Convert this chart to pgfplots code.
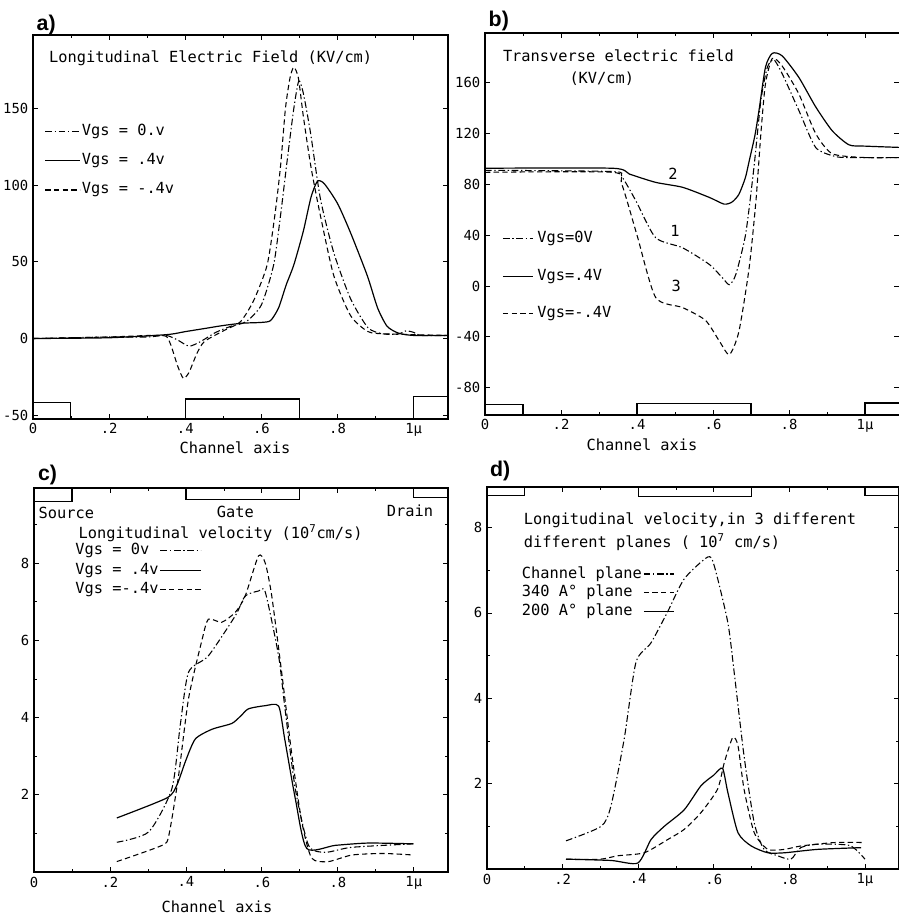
\documentclass[border=0pt]{standalone}
\usepackage{pgfplots}
\pgfplotsset{compat=1.18}
\usepackage{fontspec}
\setmainfont{DejaVu Sans Mono}
\newfontfamily\labfont{Liberation Sans}
\newcommand{\tf}{\fontsize{11.5}{13}\selectfont}
\pgfplotsset{
  panel/.style={scale only axis, anchor=south west, xmin=0, xmax=1.09,
    axis line style={line width=1pt},
    tick style={black, line width=0.6pt}, major tick length=4pt, minor tick length=2.5pt,
    xtick={0,.2,.4,.6,.8,1}, xticklabels={0,.2,.4,.6,.8,1μ},
    minor xtick={0.1,0.3,0.5,0.7,0.9},
    ticklabel style={font=\fontsize{10.4}{12}\selectfont},
    legend cell align=left,
    legend style={draw=none, fill=none, inner sep=0pt, font=\tf,
      nodes={inner sep=1pt, text height=8.5pt, text depth=2.5pt}},
  },
  sol/.style={black, line width=0.9pt, smooth, tension=0.4},
  dsh/.style={black, line width=0.8pt, dash pattern=on 4pt off 2.5pt, smooth, tension=0.4},
  dd/.style={black, line width=0.8pt, dash pattern=on 5pt off 2pt on 1pt off 2pt, smooth, tension=0.4},
  dev/.style={black, line width=0.9pt, forget plot},
}
\begin{document}
\begin{tikzpicture}
\useasboundingbox (0,0) rectangle (674.25pt,687.75pt);
% ---------------- a ----------------
\begin{axis}[panel, at={(24.75pt,373.5pt)}, width=311.25pt, height=288pt,
  ymin=-52.5, ymax=198, ytick={-50,0,50,100,150}, yticklabels={-50,0,50,100,150},
  legend style={at={(axis cs:0.03,141)}, anchor=north west, row sep=9pt},
  legend image code/.code={\draw[#1, sharp plot] (0pt,0pt) -- (26pt,0pt);}]
\addplot[dd] coordinates {(0,0)(0.1,0.5)(0.2,1)(0.3,1)(0.35,2)(0.38,-1)(0.41,-5)(0.44,-2)(0.48,4)(0.52,8)(0.56,11)(0.6,22)(0.632,48)(0.65,80)(0.668,117)(0.685,150)(0.698,168)(0.71,160)(0.729,134)(0.755,91)(0.79,56)(0.834,26)(0.88,7)(0.92,3)(0.96,3)(0.98,5)(1.0,4)(1.02,2)(1.09,2)};
\addlegendentry{Vgs = 0.v}
\addplot[sol] coordinates {(0,0)(0.2,0.5)(0.35,2.5)(0.4,4.5)(0.45,6.5)(0.5,8.5)(0.55,10)(0.6,10.5)(0.624,11.7)(0.645,20)(0.665,35)(0.685,48)(0.71,70)(0.73,92)(0.747,102.6)(0.765,101)(0.8,88)(0.834,69)(0.878,41)(0.905,20)(0.93,8)(0.96,3.5)(1.0,2)(1.09,2)};
\addlegendentry{Vgs = .4v}
\addplot[dsh] coordinates {(0,0)(0.2,1)(0.34,2)(0.36,-3)(0.38,-18)(0.395,-26)(0.41,-22)(0.43,-10)(0.45,-2)(0.5,5)(0.545,11)(0.58,25)(0.615,48)(0.635,80)(0.65,112)(0.663,150)(0.675,170)(0.685,177)(0.697,170)(0.71,145)(0.73,112)(0.755,80)(0.79,41)(0.834,15)(0.88,4.5)(0.93,3)(1.09,2)};
\addlegendentry{Vgs = -.4v}
\addplot[dev] coordinates {(0,-41.6)(0.098,-41.6)(0.098,-52.5)};
\addplot[dev] coordinates {(0.4,-52.5)(0.4,-39.5)(0.7,-39.5)(0.7,-52.5)};
\addplot[dev] coordinates {(1.0,-52.5)(1.0,-38)(1.09,-38)};
\node[anchor=west, font=\tf] at (axis cs:0.03,183) {Longitudinal Electric Field (KV/cm)};
\end{axis}
% ---------------- b ----------------
\begin{axis}[panel, at={(363.75pt,376.5pt)}, width=310.65pt, height=286.5pt,
  ymin=-101.5, ymax=199, ytick={-80,-40,0,40,80,120,160}, yticklabels={-80,-40,0,40,80,120,160},
  legend style={at={(axis cs:0.045,44)}, anchor=north west, row sep=15pt},
  legend image code/.code={\draw[#1, sharp plot] (0pt,0pt) -- (22.5pt,0pt);}]
\addplot[dd] coordinates {(0,91)(0.335,90)(0.36,86)(0.397,67)(0.449,38)(0.52,30)(0.59,17)(0.626,6)(0.643,1)(0.66,9)(0.686,41)(0.708,94)(0.726,146)(0.743,172)(0.76,178)(0.782,167)(0.826,138)(0.87,109)(0.92,102)(0.958,101)(1.09,101)};
\addlegendentry{\,Vgs=0V}
\addplot[sol] coordinates {(0,92.6)(0.335,92.6)(0.38,88)(0.449,81.5)(0.52,77.6)(0.59,69.7)(0.629,64.4)(0.65,66)(0.668,72)(0.685,85)(0.695,98)(0.71,118)(0.721,138)(0.738,172)(0.756,183)(0.782,181)(0.826,164)(0.87,141)(0.914,122)(0.958,111)(1.0,110)(1.09,109)};
\addlegendentry{\,Vgs=.4V}
\addplot[dsh] coordinates {(0,89.4)(0.335,89.4)(0.36,80)(0.4,40)(0.449,-9)(0.52,-17)(0.58,-27)(0.616,-43)(0.643,-54)(0.668,-36)(0.695,14)(0.713,67)(0.726,120)(0.738,159)(0.756,179)(0.782,173)(0.826,151)(0.87,120)(0.914,104)(1.0,101)(1.09,101)};
\addlegendentry{\,Vgs=-.4V}
\addplot[dev] coordinates {(0,-93)(0.1,-93)(0.1,-101.5)};
\addplot[dev] coordinates {(0.4,-101.5)(0.4,-92.5)(0.7,-92.5)(0.7,-101.5)};
\addplot[dev] coordinates {(1.0,-101.5)(1.0,-92)(1.09,-92)};
\node[anchor=west, font=\tf] at (axis cs:0.035,181) {Transverse electric field};
\node[anchor=west, font=\tf] at (axis cs:0.21,163) {(KV/cm)};
\node[font=\tf] at (axis cs:0.495,88) {2};
\node[font=\tf] at (axis cs:0.5,43) {1};
\node[font=\tf] at (axis cs:0.503,0) {3};
\end{axis}
% ---------------- c ----------------
\begin{axis}[panel, at={(25.5pt,33.75pt)}, width=310.5pt, height=288pt,
  ymin=0, ymax=9.95, ytick={2,4,6,8}, yticklabels={2,4,6,8}, minor ytick={1,3,5,7,9},
  legend plot pos=right,
  legend style={at={(axis cs:0.105,8.55)}, anchor=north west, row sep=1.5pt},
  legend image code/.code={\draw[#1, sharp plot] (0pt,0pt) -- (30pt,0pt);}]
\addplot[dd] coordinates {(0.218,0.77)(0.302,1.04)(0.363,2.16)(0.385,3.8)(0.407,5.18)(0.459,5.6)(0.530,6.64)(0.556,7.15)(0.591,7.28)(0.609,7.25)(0.644,5.6)(0.66,4.3)(0.688,2.15)(0.723,0.69)(0.767,0.51)(0.837,0.64)(0.999,0.73)};
\addlegendentry{Vgs = 0v\hspace{12pt}}
\addplot[sol] coordinates {(0.218,1.40)(0.35,1.92)(0.376,2.25)(0.4,2.9)(0.425,3.45)(0.469,3.7)(0.521,3.85)(0.545,4.05)(0.565,4.23)(0.609,4.31)(0.644,4.3)(0.66,3.45)(0.688,1.9)(0.718,0.61)(0.793,0.69)(0.88,0.75)(0.999,0.73)};
\addlegendentry{Vgs = .4v\hspace{12pt}}
\addplot[dsh] coordinates {(0.218,0.27)(0.337,0.69)(0.355,0.95)(0.38,2.45)(0.407,4.5)(0.442,6.0)(0.459,6.55)(0.494,6.47)(0.53,6.73)(0.556,7.15)(0.591,8.19)(0.609,8.0)(0.626,7.15)(0.652,5.18)(0.679,3.03)(0.705,1.3)(0.731,0.36)(0.775,0.27)(0.837,0.44)(0.92,0.48)(0.999,0.44)};
\addlegendentry{Vgs =-.4v\hspace{12pt}}
\addplot[dev] coordinates {(0,9.6)(0.1,9.6)(0.1,9.95)};
\addplot[dev] coordinates {(0.4,9.95)(0.4,9.65)(0.7,9.65)(0.7,9.95)};
\addplot[dev] coordinates {(1.0,9.95)(1.0,9.7)(1.09,9.7)};
\node[anchor=west, font=\tf] at (axis cs:0.0,9.3) {Source};
\node[font=\tf] at (axis cs:0.53,9.32) {Gate};
\node[font=\tf] at (axis cs:0.99,9.35) {Drain};
\node[anchor=west, font=\tf] at (axis cs:0.105,8.78) {Longitudinal velocity (10\textsuperscript{7}cm/s)};
\end{axis}
% ---------------- d ----------------
\begin{axis}[panel, at={(365.25pt,36pt)}, width=309pt, height=286.5pt,
  ymin=0, ymax=8.95, ytick={2,4,6,8}, yticklabels={2,4,6,8}, minor ytick={1,3,5,7},
  legend plot pos=right,
  legend style={at={(axis cs:0.088,7.12)}, anchor=north west, row sep=1.1pt},
  legend image code/.code={\draw[#1, sharp plot] (0pt,0pt) -- (22.5pt,0pt);}]
\addplot[dd] coordinates {(0.209,0.66)(0.302,1.0)(0.328,1.48)(0.363,3.05)(0.394,4.84)(0.434,5.3)(0.478,6.03)(0.522,6.8)(0.584,7.31)(0.601,7.11)(0.637,5.78)(0.654,4.6)(0.68,2.65)(0.707,1.08)(0.733,0.46)(0.769,0.31)(0.804,0.23)(0.83,0.5)(0.875,0.58)(0.96,0.55)(1.0,0.23)};
\addlegendentry{Channel plane\hspace{4pt}}
\addplot[dsh] coordinates {(0.209,0.23)(0.3,0.23)(0.346,0.31)(0.416,0.38)(0.478,0.69)(0.522,0.93)(0.566,1.32)(0.61,1.87)(0.628,2.5)(0.65,3.08)(0.664,2.89)(0.68,1.87)(0.707,0.85)(0.743,0.46)(0.787,0.46)(0.831,0.54)(0.92,0.62)(0.998,0.62)};
\addlegendentry{340 A° plane\hspace{4pt}}
\addplot[sol] coordinates {(0.209,0.23)(0.328,0.2)(0.399,0.14)(0.434,0.69)(0.469,1.0)(0.522,1.39)(0.566,1.95)(0.6,2.2)(0.623,2.36)(0.637,1.8)(0.664,0.85)(0.699,0.54)(0.743,0.38)(0.787,0.38)(0.875,0.46)(0.99,0.5)};
\addlegendentry{200 A° plane\hspace{4pt}}
\addplot[dev] coordinates {(0,8.76)(0.1,8.76)(0.1,8.95)};
\addplot[dev] coordinates {(0.4,8.95)(0.4,8.72)(0.7,8.72)(0.7,8.95)};
\addplot[dev] coordinates {(1.0,8.95)(1.0,8.76)(1.09,8.76)};
\node[anchor=west, font=\tf] at (axis cs:0.085,8.17) {Longitudinal velocity,in 3 different};
\node[anchor=west, font=\tf] at (axis cs:0.085,7.65) {different planes ( 10\textsuperscript{7} cm/s)};
\end{axis}
% ---------------- outer labels ----------------
\node[anchor=west, font=\labfont\bfseries\fontsize{16}{18}\selectfont] at (24pt,669pt) {a)};
\node[anchor=west, font=\labfont\bfseries\fontsize{16}{18}\selectfont] at (363pt,672pt) {b)};
\node[anchor=west, font=\labfont\bfseries\fontsize{16}{18}\selectfont] at (25pt,331.5pt) {c)};
\node[anchor=west, font=\labfont\bfseries\fontsize{16}{18}\selectfont] at (364pt,334.5pt) {d)};
\node[font=\tf] at (176.25pt,352pt) {Channel axis};
\node[font=\tf] at (481.5pt,354pt) {Channel axis};
\node[font=\tf] at (162.75pt,7.5pt) {Channel axis};
\end{tikzpicture}
\end{document}
